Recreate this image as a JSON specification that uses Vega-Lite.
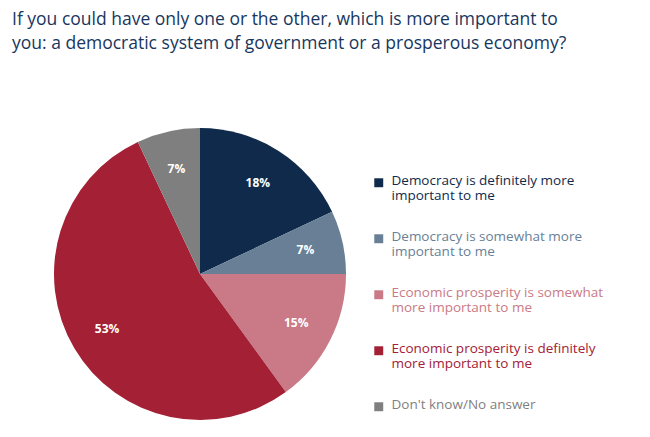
{
"$schema":"https://vega.github.io/schema/vega-lite/v6.json",
"width":292,"height":292,
"autosize":{"type":"none"},
"padding":{"left":54,"top":128,"right":304,"bottom":17},
"title":{"text":["If you could have only one or the other, which is more important to","you: a democratic system of government or a prosperous economy?"],"anchor":"start","dx":-42,"offset":76,"fontSize":17.5,"fontWeight":"normal","color":"#17375e","font":"Open Sans","lineHeight":24},
"data":{"values":[
{"cat":"Democracy is definitely more|important to me","v":18,"o":1,"lab":"18%"},
{"cat":"Democracy is somewhat more|important to me","v":7,"o":2,"lab":"7%"},
{"cat":"Economic prosperity is somewhat|more important to me","v":15,"o":3,"lab":"15%"},
{"cat":"Economic prosperity is definitely|more important to me","v":53,"o":4,"lab":"53%"},
{"cat":"Don't know/No answer","v":7,"o":5,"lab":"7%"}]},
"encoding":{
"theta":{"field":"v","type":"quantitative","stack":true},
"order":{"field":"o","type":"quantitative"},
"color":{"field":"cat","type":"nominal","sort":{"field":"o"},
"scale":{"domain":["Democracy is definitely more|important to me","Democracy is somewhat more|important to me","Economic prosperity is somewhat|more important to me","Economic prosperity is definitely|more important to me","Don't know/No answer"],"range":["#0f2a4a","#687f96","#c97a86","#a32035","#7f7f7f"]},
"legend":{"title":null,"orient":"none","legendX":318,"legendY":48,"labelExpr":"split(datum.label,'|')","labelFontSize":13.5,"labelFont":"Open Sans","labelLimit":300,"labelBaseline":"top","symbolType":"square","symbolSize":80,"rowPadding":26,"labelOffset":6,
"encode":{"labels":{"update":{"fill":{"signal":"scale('color', datum.value)"},"dy":{"value":-9}}}}}}},
"layer":[
{"mark":{"type":"arc","outerRadius":146}},
{"mark":{"type":"text","radius":108,"fontWeight":"bold","fontSize":12,"font":"Open Sans"},
"encoding":{"text":{"field":"lab","type":"nominal"},"color":{"value":"white"}}}
]
}
